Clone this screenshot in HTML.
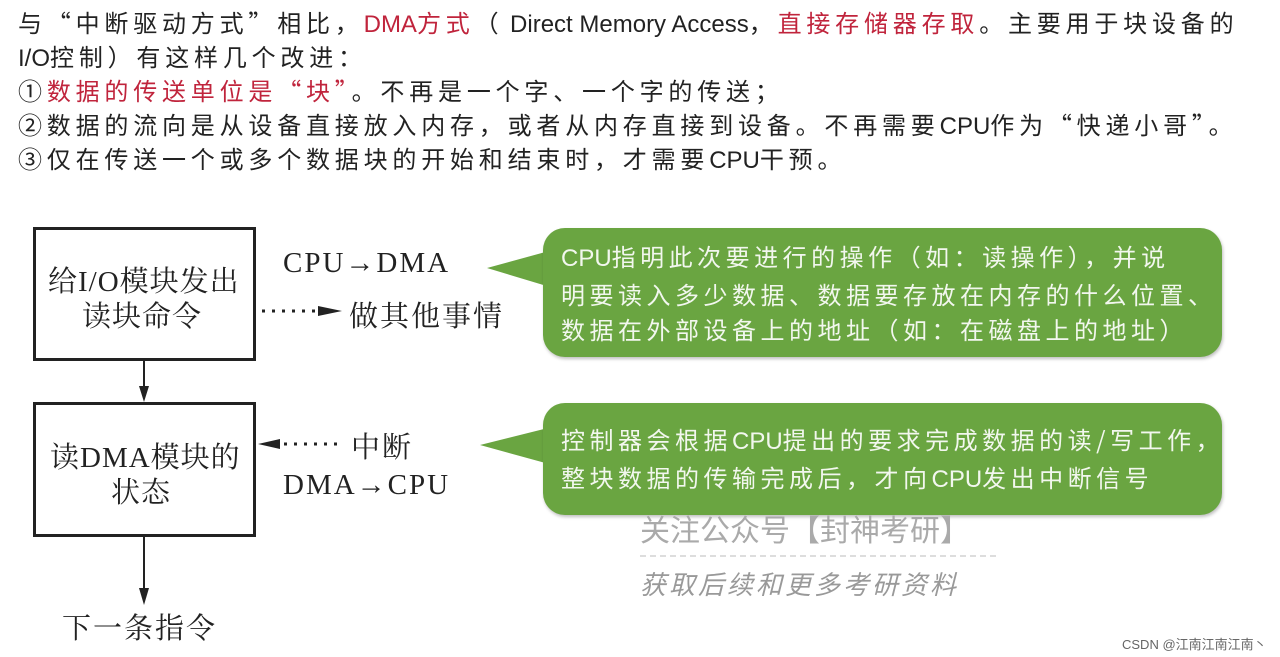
<!DOCTYPE html>
<html><head><meta charset="utf-8"><style>
body{margin:0;width:1280px;height:657px;background:#fff;position:relative;overflow:hidden;font-family:"Liberation Sans","Noto Sans CJK SC",sans-serif;color:#222}
.t{position:absolute;left:18px;font-family:"Noto Sans CJK SC",sans-serif;font-size:24px;letter-spacing:4.8px;white-space:nowrap;line-height:34px}
.t .l{font-family:"Liberation Sans",sans-serif;letter-spacing:0}
.r{color:#c0243c}
.s{position:absolute;font-family:"Liberation Serif","Noto Serif CJK SC",serif;font-size:29px;letter-spacing:1px;color:#222;white-space:nowrap}
.box{position:absolute;border:3px solid #222;box-sizing:border-box;background:#fff}
.b{position:absolute;background:#6aa541;border-radius:22px;color:#f2f7ee;font-family:"Noto Sans CJK SC",sans-serif;font-size:24px;letter-spacing:4.5px;line-height:35px;padding:0 0 0 18px;box-sizing:border-box;box-shadow:1px 2px 3px rgba(0,0,0,.25);white-space:nowrap}
.b .l{font-family:"Liberation Sans",sans-serif;letter-spacing:0}
</style></head><body>
<div class="t" style="top:5px">与“中断驱动方式”相比，<span class="r"><span class="l">DMA</span>方式</span>（<span class="l"> Direct Memory Access</span>，<span class="r">直接存储器存取</span>。主要用于块设备的</div>
<div class="t" style="top:39px"><span class="l">I/O</span>控制）有这样几个改进：</div>
<div class="t" style="top:73px">①<span class="r">数据的传送单位是“块”</span>。不再是一个字、一个字的传送；</div>
<div class="t" style="top:107px">②数据的流向是从设备直接放入内存，或者从内存直接到设备。不再需要<span class="l">CPU</span>作为“快递小哥”。</div>
<div class="t" style="top:141px">③仅在传送一个或多个数据块的开始和结束时，才需要<span class="l">CPU</span>干预。</div>

<div class="box" style="left:33px;top:227px;width:223px;height:134px"></div>
<div class="box" style="left:33px;top:402px;width:223px;height:135px"></div>
<div class="s" style="left:48px;top:259px">给I/O模块发出</div>
<div class="s" style="left:82px;top:294px">读块命令</div>
<div class="s" style="left:50px;top:435px">读DMA模块的</div>
<div class="s" style="left:111px;top:470px">状态</div>
<div class="s" style="left:283px;top:247px;letter-spacing:2px">CPU→DMA</div>
<div class="s" style="left:349px;top:294px;letter-spacing:2px">做其他事情</div>
<div class="s" style="left:351px;top:425px;letter-spacing:2px">中断</div>
<div class="s" style="left:283px;top:469px;letter-spacing:2px">DMA→CPU</div>
<div class="s" style="left:62px;top:606px;letter-spacing:2px">下一条指令</div>

<svg style="position:absolute;left:0;top:0" width="1280" height="657">
<line x1="144" y1="361" x2="144" y2="390" stroke="#222" stroke-width="2"/>
<polygon points="139,386 149,386 144,402" fill="#222"/>
<line x1="144" y1="537" x2="144" y2="590" stroke="#222" stroke-width="2"/>
<polygon points="139,588 149,588 144,605" fill="#222"/>
<line x1="262" y1="311" x2="320" y2="311" stroke="#222" stroke-width="3" stroke-dasharray="3,7"/>
<polygon points="318,306 342,311 318,316" fill="#222"/>
<polygon points="258,444 280,439 280,449" fill="#222"/>
<line x1="284" y1="444" x2="340" y2="444" stroke="#222" stroke-width="3" stroke-dasharray="3,7"/>
<polygon points="487,268 560,248 560,290" fill="#6aa541"/>
<polygon points="480,445 560,425 560,467" fill="#6aa541"/>
<line x1="640" y1="556" x2="1000" y2="556" stroke="#bbb" stroke-width="1" stroke-dasharray="6,4"/>
</svg>
<div class="b" style="left:543px;top:228px;width:679px;height:129px;padding-top:10px"><span class="l">CPU</span>指明此次要进行的操作（如：读操作），并说<br>明要读入多少数据、数据要存放在内存的什么位置、<br>数据在外部设备上的地址（如：在磁盘上的地址）</div>
<div class="b" style="left:543px;top:403px;width:679px;height:112px;padding-top:18px">控制器会根据<span class="l">CPU</span>提出的要求完成数据的读/写工作，<br>整块数据的传输完成后，才向<span class="l">CPU</span>发出中断信号</div>
<div style="position:absolute;left:640px;top:506px;font-size:30px;color:#aaa;white-space:nowrap">关注公众号【封神考研】</div>
<div style="position:absolute;left:640px;top:565px;font-size:26px;letter-spacing:3px;color:#999;white-space:nowrap;font-style:italic">获取后续和更多考研资料</div>
<div style="position:absolute;left:1122px;top:634px;font-size:13px;color:#666;white-space:nowrap">CSDN @江南江南江南丶</div>
</body></html>
